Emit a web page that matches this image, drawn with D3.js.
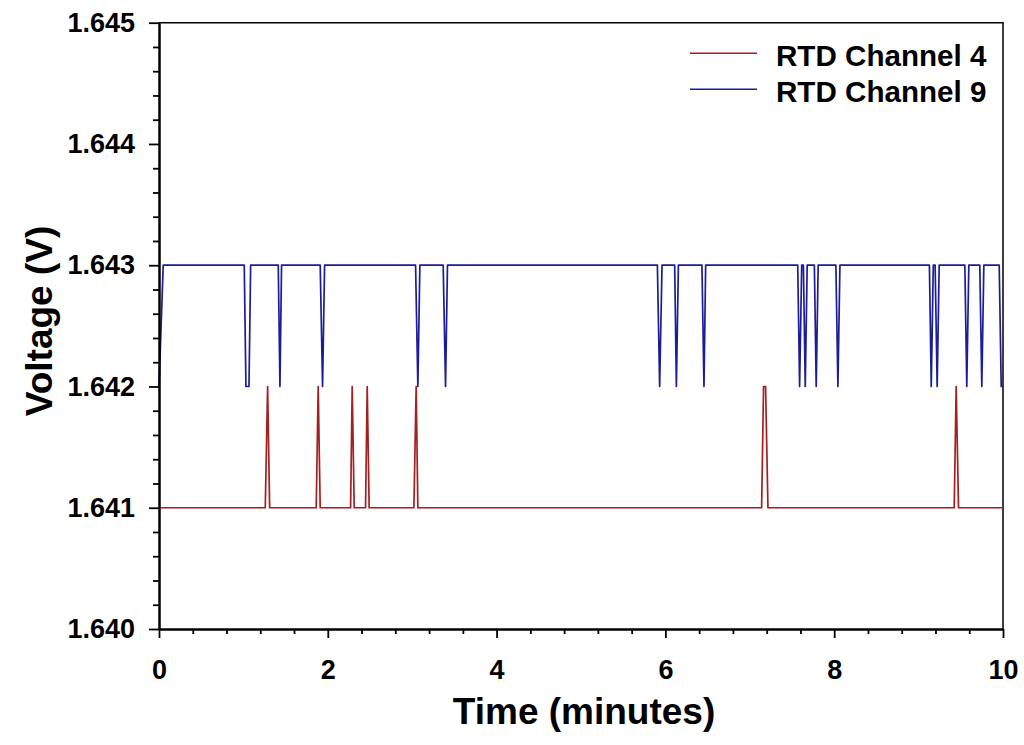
<!DOCTYPE html>
<html>
<head>
<meta charset="utf-8">
<script src="https://cdn.jsdelivr.net/npm/d3@7"></script>
<style>
  html, body { margin: 0; padding: 0; background: #fff; }
  svg { display: block; }
  text { font-family: "Liberation Sans", Arial, sans-serif; font-weight: bold; fill: #000; }
</style>
</head>
<body>
<script>
// ---- Data ----
const seriesNames = ["RTD Channel 4", "RTD Channel 9"];

const ch4Time = [0, 1.259, 1.287, 1.311, 1.863, 1.886, 1.910, 2.270, 2.289, 2.313,
  2.447, 2.467, 2.490, 3.020, 3.047, 3.067, 7.140, 7.163, 7.187, 7.215,
  9.422, 9.445, 9.473, 10];
const ch4Volt = [1.641, 1.641, 1.642, 1.641, 1.641, 1.642, 1.641, 1.641, 1.642, 1.641,
  1.641, 1.642, 1.641, 1.641, 1.642, 1.641, 1.641, 1.642, 1.642, 1.641,
  1.641, 1.642, 1.641, 1.641];

const ch9Time = [0, 0.05,
  1.010, 1.030, 1.066, 1.086,
  1.413, 1.433, 1.452,
  1.910, 1.938, 1.962,
  3.040, 3.067, 3.091,
  3.367, 3.395, 3.418,
  5.905, 5.932, 5.960,
  6.110, 6.130, 6.154,
  6.433, 6.457, 6.477,
  7.568, 7.590, 7.615, 7.635, 7.657, 7.680,
  7.765, 7.787, 7.810,
  8.020, 8.044, 8.068,
  9.128, 9.150, 9.174, 9.196, 9.220, 9.244,
  9.548, 9.571, 9.595,
  9.725, 9.749, 9.773,
  9.955, 9.979, 10];
const ch9Volt = [1.642, 1.643,
  1.643, 1.642, 1.642, 1.643,
  1.643, 1.642, 1.643,
  1.643, 1.642, 1.643,
  1.643, 1.642, 1.643,
  1.643, 1.642, 1.643,
  1.643, 1.642, 1.643,
  1.643, 1.642, 1.643,
  1.643, 1.642, 1.643,
  1.643, 1.642, 1.643, 1.643, 1.642, 1.643,
  1.643, 1.642, 1.643,
  1.643, 1.642, 1.643,
  1.643, 1.642, 1.643, 1.643, 1.642, 1.643,
  1.643, 1.642, 1.643,
  1.643, 1.642, 1.643,
  1.643, 1.642, 1.642];

const xMajorTicks = [0, 2, 4, 6, 8, 10];
const xMinorTicks = [0.4, 0.8, 1.2, 1.6, 2.4, 2.8, 3.2, 3.6, 4.4, 4.8, 5.2, 5.6, 6.4, 6.8, 7.2, 7.6, 8.4, 8.8, 9.2, 9.6];
const yMajorTicks = [1.640, 1.641, 1.642, 1.643, 1.644, 1.645];
const yMinorTicks = [1.6402, 1.6404, 1.6406, 1.6408, 1.6412, 1.6414, 1.6416, 1.6418,
  1.6422, 1.6424, 1.6426, 1.6428, 1.6432, 1.6434, 1.6436, 1.6438,
  1.6442, 1.6444, 1.6446, 1.6448];

const xTitle = "Time (minutes)";
const yTitle = "Voltage (V)";
const colors = ["#a51f1f", "#1b1d98"];

// ---- Layout ----
const W = 1024, H = 745;
const L = 159, R = 1003, T = 22.7, B = 629;

const svg = d3.select("body").append("svg").attr("width", W).attr("height", H);

const x = d3.scaleLinear().domain([0, 10]).range([L, R]);
const y = d3.scaleLinear().domain([1.640, 1.645]).range([B, T]);

// frame (top & right)
svg.append("path")
  .attr("d", `M${L},${T}H${R}V${B}`)
  .attr("fill", "none").attr("stroke", "#000").attr("stroke-width", 1.5);

// lines
const line = d3.line().x(d => x(d[0])).y(d => y(d[1]));
const s4 = ch4Time.map((t, i) => [t, ch4Volt[i]]);
const s9 = ch9Time.map((t, i) => [t, ch9Volt[i]]);
[s4, s9].forEach((s, i) => {
  svg.append("path").datum(s).attr("d", line)
    .attr("fill", "none").attr("stroke", colors[i]).attr("stroke-width", 1.7)
    .attr("stroke-linejoin", "round");
});

// axes
function styleAxis(g) {
  g.selectAll("path.domain").attr("stroke", "#000").attr("stroke-width", 2);
  g.selectAll(".tick line").attr("stroke", "#000").attr("stroke-width", 1.8);
}
svg.append("g").attr("transform", `translate(0,${B})`)
  .call(d3.axisBottom(x).tickValues(xMinorTicks).tickSize(5).tickFormat("").tickSizeOuter(0))
  .call(styleAxis);
const gx = svg.append("g").attr("transform", `translate(0,${B})`)
  .call(d3.axisBottom(x).tickValues(xMajorTicks).tickSize(9).tickPadding(22).tickSizeOuter(0).tickFormat(d3.format("d")))
  .call(styleAxis);
gx.selectAll("text").attr("font-size", 27).attr("font-family", null);

svg.append("g").attr("transform", `translate(${L},0)`)
  .call(d3.axisLeft(y).tickValues(yMinorTicks).tickSize(6).tickFormat("").tickSizeOuter(0))
  .call(styleAxis);
const gy = svg.append("g").attr("transform", `translate(${L},0)`)
  .call(d3.axisLeft(y).tickValues(yMajorTicks).tickSize(10).tickPadding(14).tickSizeOuter(0).tickFormat(d3.format(".3f")))
  .call(styleAxis);
gy.selectAll("text").attr("font-size", 27).attr("font-family", null);

// titles
svg.append("text").attr("x", (L + R) / 2 + 3).attr("y", 724)
  .attr("text-anchor", "middle").attr("font-size", 37).text(xTitle);
svg.append("text").attr("transform", `translate(52,${321}) rotate(-90)`)
  .attr("text-anchor", "middle").attr("font-size", 37).text(yTitle);

// legend
seriesNames.forEach((name, i) => {
  const ly = 53.3 + i * 36;
  svg.append("line").attr("x1", 690).attr("x2", 757).attr("y1", ly).attr("y2", ly)
    .attr("stroke", colors[i]).attr("stroke-width", 1.6);
  svg.append("text").attr("x", 776).attr("y", 65.7 + i * 36)
    .attr("font-size", 29.6).text(name);
});
</script>
</body>
</html>
